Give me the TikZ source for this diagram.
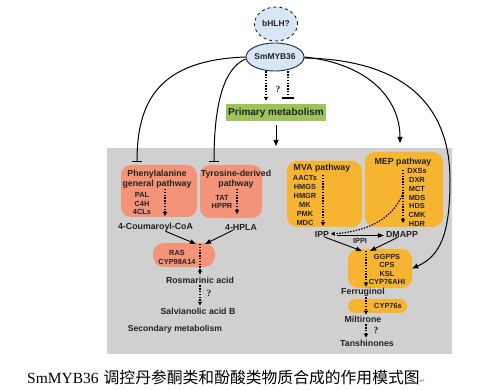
\documentclass[tikz,border=0pt]{standalone}
\usepackage{fontspec}
\setmainfont{Liberation Sans}
\newfontfamily\cjk{Noto Sans CJK SC}
\newfontfamily\capserif{Liberation Serif}
\newfontfamily\symfont{DejaVu Sans}
\usetikzlibrary{positioning, arrows.meta, shapes.geometric}
\definecolor{tfBlue}{HTML}{D6E6F5}
\definecolor{tfEdge}{HTML}{1C2533}
\definecolor{primGreen}{HTML}{9DC35B}
\definecolor{panelGrey}{HTML}{D0D0D0}
\definecolor{pheSalmon}{HTML}{F39478}
\definecolor{terpOrange}{HTML}{F7B431}
\definecolor{inkDark}{HTML}{222222}

\begin{document}
\begin{tikzpicture}[x=1pt, y=-1pt,
  every node/.style={inner sep=0pt, text=inkDark, font=\bfseries\fontsize{8.8}{10}\selectfont},
  tfEll/.style={ellipse, draw=tfEdge, line width=0.9pt, fill=tfBlue,
                minimum width=46pt, minimum height=28pt, font=\bfseries\fontsize{8.4}{9}\selectfont},
  pheBox/.style={rectangle, rounded corners=10pt, fill=pheSalmon},
  terpBox/.style={rectangle, rounded corners=10pt, fill=terpOrange},
  enzList/.style={align=center, font=\bfseries\fontsize{7.4}{8.6}\selectfont},
  pwTitle/.style={align=center, font=\bfseries\fontsize{8.8}{10}\selectfont},
  qmark/.style={font=\capserif\bfseries\fontsize{9.5}{10}\selectfont},
  dotArr/.style={line width=1.2pt, dash pattern=on 1.4pt off 1.4pt, -{Triangle[length=4pt, width=4pt]}},
  solArr/.style={line width=0.9pt, -{Triangle[length=6pt, width=4.5pt]}},
  ctlArr/.style={line width=1pt, -{Triangle[length=6pt, width=5pt]}},
  ctlBar/.style={line width=1pt, -{Bar[width=10pt, line width=1.2pt]}},
]
  \useasboundingbox (0,0) rectangle (496,390);
  \fill[panelGrey] (107,148) rectangle (452,354);

  \node[tfEll, dashed, minimum width=43pt, minimum height=34pt] (bhlh) at (276,24) {bHLH?};
  \node[tfEll] (myb) at (275,57) {SmMYB36};

  \node[rectangle, fill=primGreen, minimum width=100pt, minimum height=17pt,
        font=\bfseries\fontsize{10}{11}\selectfont] (prim) at (276,112.5) {Primary metabolism};
  \coordinate (secIn) at (276,146);

  \draw[dotArr, shorten >=3pt] ([xshift=-9pt]myb.south) -- ([xshift=-10pt]prim.north);
  \draw[line width=1.2pt, dash pattern=on 1.4pt off 1.4pt, -{Bar[width=12pt, line width=1.3pt]}, shorten >=5pt]
        ([xshift=13pt]myb.south) -- ([xshift=12pt]prim.north);
  \node[qmark] at (278,89) {?};
  \draw[ctlArr, shorten <=4pt] (prim.south) -- (secIn);

  % phenolic acid branch
  \node[pheBox, minimum width=76pt, minimum height=52pt] (pheBx) at (159,191) {};
  \node[pheBox, minimum width=62pt, minimum height=53pt] (tyrBx) at (231,191.5) {};
  \node[pheBox, rounded corners=11pt, minimum width=62pt, minimum height=24pt] (rasBx) at (184,255) {};
  \node[pwTitle] at (157,179) {Phenylalanine\\general pathway};
  \node[pwTitle] at (236,179) {Tyrosine-derived\\pathway};
  \node[enzList] (pheEnz) at (142,203.5) {PAL\\C4H\\4CLs};
  \node[enzList] (tyrEnz) at (222,202) {TAT\\HPPR};
  \node[enzList] (rasEnz) at (177,257.5) {RAS\\CYP98A14};
  \coordinate (pheTop) at (165,189);
  \coordinate (pheEnd) at (165,216);
  \coordinate (tyrTop) at (237,189);
  \coordinate (tyrEnd) at (237,214);
  \draw[dotArr] (pheTop) -- (pheEnd);
  \draw[dotArr] (tyrTop) -- (tyrEnd);

  \node (coum) at (155.5,227) {4-Coumaroyl-CoA};
  \node (hpla) at (241,227) {4-HPLA};
  \node (rosA) at (200,280) {Rosmarinic acid};
  \node (salB) at (198,311) {Salvianolic acid B};
  \node[font=\bfseries\fontsize{8.6}{10}\selectfont] (secM) at (175,329) {Secondary metabolism};
  \coordinate (rasIn) at (200,244);
  \draw[solArr] ([xshift=10pt]coum.south) -- ([xshift=-4pt]rasIn);
  \draw[solArr] ([xshift=-8pt]hpla.south) -- ([xshift=5pt]rasIn);
  \draw[dotArr, shorten >=2pt] (rasIn) -- (rasIn |- rosA.north);
  \draw[dotArr, shorten <=2pt, shorten >=2pt] (rasIn |- rosA.south) -- (rasIn |- salB.north);
  \node[qmark] at (209,293) {?};

  % tanshinone branch
  \node[terpBox, minimum width=75pt, minimum height=66pt] (mvaBx) at (324.5,194) {};
  \node[terpBox, minimum width=78pt, minimum height=75pt] (mepBx) at (404,189.5) {};
  \node[terpBox, minimum width=64pt, minimum height=39pt] (ggBx) at (380,268.5) {};
  \node[terpBox, rounded corners=7pt, minimum width=59pt, minimum height=14pt] (cypBx) at (377.5,306) {};
  \node[pwTitle] at (322,168) {MVA pathway};
  \node[pwTitle] at (403,162) {MEP pathway};
  \node[enzList, font=\bfseries\fontsize{7.4}{9}\selectfont] (mvaEnz) at (305,200.5)
        {AACTs\\HMGS\\HMGR\\MK\\PMK\\MDC};
  \node[enzList, font=\bfseries\fontsize{7.4}{8.8}\selectfont] (mepEnz) at (417,197.5)
        {DXSs\\DXR\\MCT\\MDS\\HDS\\CMK\\HDR};
  \node[enzList, font=\bfseries\fontsize{7.4}{8.3}\selectfont] (ggEnz) at (387,269.5)
        {GGPPS\\CPS\\KSL\\CYP76AHI};
  \node[enzList] (cypEnz) at (388,306) {CYP76s};
  \coordinate (mvaTop) at (323,175);
  \coordinate (mvaEnd) at (323,226);
  \coordinate (mepTop) at (403,170);
  \coordinate (mepMid) at (403,193);
  \coordinate (mepEnd) at (403,223);
  \draw[dotArr] (mvaTop) -- (mvaEnd);
  \draw[dotArr] (mepTop) -- (mepEnd);

  \node (ipp) at (322,234) {IPP};
  \node (dmapp) at (402,234) {DMAPP};
  \node[font=\bfseries\fontsize{7.4}{8}\selectfont] (ippi) at (360,241) {IPPI};
  \draw[dotArr, shorten >=1.5pt] (mepMid) .. controls (392,222) and (362,232) .. (ipp.east);
  \draw[solArr, shorten >=2pt] ([xshift=8pt, yshift=-1.5pt]ipp.east) -- ([yshift=-1.5pt]dmapp.west);

  \coordinate (ggIn) at (366,251);
  \node (ferr) at (363,292) {Ferruginol};
  \node (milt) at (363,319) {Miltirone};
  \node (tans) at (367,343) {Tanshinones};
  \draw[solArr] ([xshift=3pt]ipp.south) -- ([xshift=-4pt]ggIn);
  \draw[solArr] ([xshift=-4pt]dmapp.south) -- ([xshift=4pt]ggIn);
  \draw[dotArr, shorten >=1pt] (ggIn) -- (ggIn |- ferr.north);
  \draw[dotArr, shorten <=1pt, shorten >=1pt] (ggIn |- ferr.south) -- (ggIn |- milt.north);
  \draw[dotArr, shorten <=2pt, shorten >=2pt] (ggIn |- milt.south) -- (ggIn |- tans.north);
  \node[qmark] at (376,330) {?};

  % regulation by SmMYB36
  \draw[ctlBar] (myb.west) .. controls (160,60) and (137,100) .. (137,162);
  \draw[ctlBar] ([yshift=-2pt]myb.west) .. controls (225,68) and (214,100) .. (214,162);
  \draw[ctlArr] (myb.east) .. controls (370,64) and (400,100) .. (400,143);
  \draw[ctlArr] ([yshift=-1pt]myb.east) .. controls (410,60) and (450,110) .. (450,180)
        .. controls (450,235) and (440,256) .. (ggBx.east);

  \node[anchor=west, text=black] (caption) at (27,378)
        {{\capserif\mdseries\fontsize{15.5}{18}\selectfont SmMYB36}\hspace{5pt}{\cjk\mdseries\fontsize{15.8}{18}\selectfont 调控丹参酮类和酚酸类物质合成的作用模式图}{\symfont\mdseries\fontsize{7}{8}\selectfont\color{gray}↵}};
\end{tikzpicture}
\end{document}
